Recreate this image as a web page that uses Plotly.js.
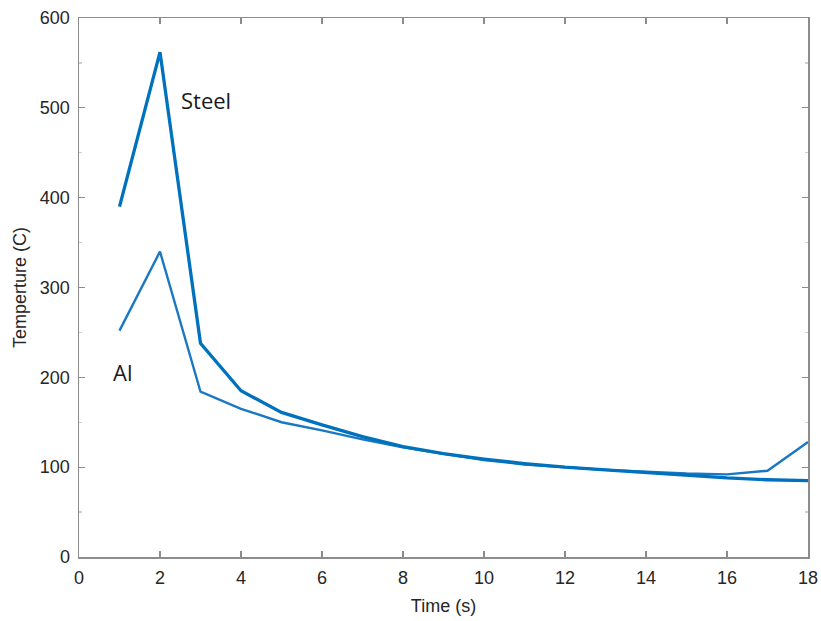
<!DOCTYPE html>
<html>
<head>
<meta charset="utf-8">
<script src="https://cdn.plot.ly/plotly-3.0.1.min.js"></script>
<style>html,body{margin:0;padding:0;background:#fff}</style>
</head>
<body>
<div id="chart" style="width:821px;height:621px"></div>
<script>
var timeS = [1,2,3,4,5,6,7,8,9,10,11,12,13,14,15,16,17,18];
var steelTemp = [390,562,238,185,161,147,134,123,115,109,104,100,97,94,91,88,86,85];
var alTemp = [252,340,184,165,150,141,131,122,115,108,103,100,97,95,93,92,96,128];
var xTicks = [0,2,4,6,8,10,12,14,16,18];
var yTicks = [0,100,200,300,400,500,600];
var labels = [{text:'Steel', x:2.48, y:509}, {text:'Al', x:0.8, y:206}];

var traces = [
  {x: timeS, y: alTemp, type:'scatter', mode:'lines', line:{color:'#1a78c2', width:2.4}, showlegend:false},
  {x: timeS, y: steelTemp, type:'scatter', mode:'lines', line:{color:'#0072BD', width:3.3}, showlegend:false}
];

var axisCommon = {
  showgrid:false, zeroline:false, showline:true, linecolor:'#8c8c8c', linewidth:1.5,
  mirror:'ticks', ticks:'inside', ticklen:6, tickcolor:'#8c8c8c', tickwidth:1.3,
  ticklabelstandoff:4,
  tickfont:{family:'Liberation Sans, Arial, sans-serif', size:18, color:'#262626'}
};

var layout = {
  width:821, height:621,
  margin:{l:79, r:13, t:18, b:64},
  paper_bgcolor:'#fff', plot_bgcolor:'#fff',
  xaxis: Object.assign({}, axisCommon, {
    range:[0,18], tickvals:xTicks, ticktext:xTicks.map(String),
    title:{text:'Time (s)', font:{family:'Liberation Sans, Arial, sans-serif', size:18, color:'#262626'}, standoff:12}
  }),
  yaxis: Object.assign({}, axisCommon, {
    range:[0,600], tickvals:yTicks, ticktext:yTicks.map(String),
    minor:{dtick:50, ticklen:3, tickcolor:'#d0d0d0', ticks:'inside'},
    title:{text:'Temperture (C)', font:{family:'Liberation Sans, Arial, sans-serif', size:18, color:'#262626'}, standoff:8}
  }),
  annotations: labels.map(function(l){
    return {text:l.text, x:l.x, y:l.y, xref:'x', yref:'y', xanchor:'left', yanchor:'middle', showarrow:false,
      font:{family:'Open Sans, Noto Sans, sans-serif', size:22, color:'#1a1a1a'}};
  })
};

Plotly.newPlot('chart', traces, layout, {displayModeBar:false, staticPlot:true});
</script>
</body>
</html>
